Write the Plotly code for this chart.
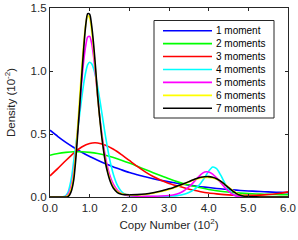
import plotly.graph_objects as go

# ---- data ----
x_wide = [0.0, 0.2, 0.4, 0.6, 0.8, 1.0, 1.2, 1.4, 1.6, 1.8, 2.0, 2.2, 2.4, 2.6, 2.8, 3.0,
          3.2, 3.4, 3.6, 3.8, 4.0, 4.2, 4.4, 4.6, 4.8, 5.0, 5.2, 5.4, 5.6, 5.8, 6.0]
m1 = [0.53, 0.48, 0.434, 0.393, 0.355, 0.321, 0.291, 0.263, 0.238, 0.216, 0.195, 0.177, 0.160,
      0.145, 0.132, 0.120, 0.109, 0.099, 0.090, 0.082, 0.075, 0.068, 0.062, 0.057, 0.052, 0.048,
      0.045, 0.042, 0.039, 0.037, 0.035]
m2 = [0.331, 0.345, 0.354, 0.359, 0.359, 0.354, 0.345, 0.331, 0.313, 0.292, 0.269, 0.244, 0.218,
      0.193, 0.168, 0.144, 0.122, 0.103, 0.087, 0.073, 0.060, 0.050, 0.042, 0.036, 0.031, 0.027,
      0.024, 0.022, 0.020, 0.019, 0.019]
m3 = [0.167, 0.227, 0.290, 0.349, 0.397, 0.425, 0.429, 0.411, 0.379, 0.337, 0.290, 0.243, 0.200,
      0.163, 0.133, 0.108, 0.089, 0.071, 0.055, 0.042, 0.032, 0.025, 0.019, 0.015, 0.013, 0.013,
      0.014, 0.017, 0.022, 0.030, 0.041]

x_fine = [0.0, 0.1, 0.2, 0.3, 0.35, 0.4, 0.45, 0.5, 0.55, 0.6, 0.65, 0.7, 0.75, 0.8, 0.85, 0.9,
          0.95, 1.0, 1.05, 1.1, 1.15, 1.2, 1.25, 1.3, 1.35, 1.4, 1.45, 1.5, 1.55, 1.6, 1.7, 1.8,
          1.9, 2.0, 2.2, 2.4, 2.6, 2.8, 3.0, 3.1, 3.2, 3.3, 3.4, 3.5, 3.6, 3.7, 3.8, 3.9, 4.0,
          4.1, 4.2, 4.3, 4.4, 4.5, 4.6, 4.7, 4.8, 4.9, 5.0, 5.2, 5.4, 5.6, 5.8, 6.0]
m4 = [0, 0, 0, 0, 0.003, 0.012, 0.035, 0.09, 0.17, 0.29, 0.41, 0.537, 0.662, 0.786, 0.90, 0.99,
      1.05, 1.07, 1.057, 1.018, 0.957, 0.876, 0.783, 0.682, 0.58, 0.481, 0.389, 0.307, 0.236, 0.177,
      0.092, 0.044, 0.02, 0.01, 0.004, 0.003, 0.003, 0.004, 0.006, 0.008, 0.011, 0.016, 0.024,
      0.035, 0.052, 0.077, 0.11, 0.155, 0.205, 0.238, 0.225, 0.175, 0.115, 0.06, 0.024, 0.007,
      0.002, 0, 0, 0, 0, 0, 0, 0]
m5 = [0, 0, 0, 0, 0, 0.004, 0.02, 0.05, 0.11, 0.21, 0.36, 0.54, 0.73, 0.92, 1.08, 1.2,
      1.27, 1.275, 1.22, 1.11, 0.96, 0.80, 0.65, 0.52, 0.41, 0.315, 0.24, 0.18, 0.135, 0.10,
      0.053, 0.028, 0.016, 0.01, 0.006, 0.005, 0.006, 0.008, 0.012, 0.016, 0.024, 0.036, 0.055,
      0.08, 0.11, 0.145, 0.178, 0.198, 0.198, 0.182, 0.152, 0.115, 0.078, 0.046, 0.022, 0.008,
      0.002, 0, 0, 0, 0, 0, 0, 0]
m6 = [0, 0, 0, 0, 0, 0.002, 0.01, 0.03, 0.085, 0.18, 0.35, 0.57, 0.80, 1.02, 1.22, 1.37,
      1.44, 1.42, 1.32, 1.17, 0.99, 0.80, 0.64, 0.50, 0.38, 0.28, 0.21, 0.155, 0.11, 0.08,
      0.043, 0.027, 0.02, 0.017, 0.016, 0.02, 0.03, 0.044, 0.06, 0.07, 0.081, 0.093, 0.106,
      0.119, 0.132, 0.143, 0.151, 0.155, 0.155, 0.151, 0.141, 0.124, 0.102, 0.078, 0.054, 0.033,
      0.017, 0.008, 0.003, 0.001, 0, 0, 0, 0]
m7 = [0, 0, 0, 0, 0, 0, 0.003, 0.02, 0.06, 0.14, 0.30, 0.51, 0.73, 0.96, 1.18, 1.36,
      1.455, 1.45, 1.36, 1.21, 1.02, 0.81, 0.64, 0.49, 0.37, 0.27, 0.197, 0.14, 0.099, 0.069,
      0.035, 0.022, 0.019, 0.018, 0.019, 0.024, 0.034, 0.048, 0.065, 0.074, 0.085, 0.097, 0.109,
      0.122, 0.135, 0.147, 0.156, 0.161, 0.162, 0.157, 0.145, 0.126, 0.101, 0.074, 0.048, 0.027,
      0.013, 0.006, 0.003, 0.001, 0, 0, 0, 0]

names = ["1 moment", "2 moments", "3 moments", "4 moments", "5 moments", "6 moments", "7 moments"]
colors = ["#0000ff", "#00ff00", "#ff0000", "#00ffff", "#ff00ff", "#ffff00", "#000000"]
series = [(x_wide, m1), (x_wide, m2), (x_wide, m3), (x_fine, m4), (x_fine, m5), (x_fine, m6), (x_fine, m7)]

x_ticks = [0, 1, 2, 3, 4, 5, 6]
x_ticktext = ["0.0", "1.0", "2.0", "3.0", "4.0", "5.0", "6.0"]
y_ticks = [0, 0.5, 1.0, 1.5]
y_ticktext = ["0.0", "0.5", "1.0", "1.5"]

fig = go.Figure()
for (xs, ys), nm, col in zip(series, names, colors):
    fig.add_trace(go.Scatter(x=xs, y=ys, mode="lines", name=nm,
                             line=dict(color=col, width=1.6, shape="spline", smoothing=0.7)))

axis_col = "#262626"
fig.update_layout(
    width=298, height=240,
    margin=dict(l=50, r=10, t=8, b=43, autoexpand=False),
    paper_bgcolor="white", plot_bgcolor="white",
    showlegend=False,
    font=dict(family="Liberation Sans, Arial, sans-serif", size=12, color=axis_col),
)
fig.update_xaxes(range=[0, 6], tickvals=x_ticks, ticktext=x_ticktext, ticks="inside", ticklen=3,
                 tickcolor=axis_col, showline=True, linecolor=axis_col, linewidth=1.3,
                 mirror="ticks", showgrid=False, zeroline=False, automargin=False,
                 tickfont=dict(size=11.5),
                 title=dict(text="Copy Number (10<sup>2</sup>)", font=dict(size=11.5), standoff=7))
fig.update_yaxes(range=[0, 1.5], tickvals=y_ticks, ticktext=y_ticktext, ticks="inside", ticklen=3,
                 tickcolor=axis_col, showline=True, linecolor=axis_col, linewidth=1.3,
                 mirror="ticks", showgrid=False, zeroline=False, automargin=False,
                 tickfont=dict(size=11.5),
                 title=dict(text="Density (10<sup>-2</sup>)", font=dict(size=11.5), standoff=12))

# ---- manual legend (MATLAB-style compact box) ----
pw, ph = 238.0, 189.0
def px_x(p):
    return (p - 50) / pw
def px_y(p):
    return (197 - p) / ph

fig.add_shape(type="rect", xref="paper", yref="paper",
              x0=px_x(154), x1=px_x(274), y0=px_y(118), y1=px_y(20.5),
              line=dict(color=axis_col, width=1), fillcolor="white", layer="above")
for i, (nm, col) in enumerate(zip(names, colors)):
    yy = 30.7 + 12.93 * i
    fig.add_shape(type="line", xref="paper", yref="paper",
                  x0=px_x(163), x1=px_x(212), y0=px_y(yy), y1=px_y(yy),
                  line=dict(color=col, width=1.6), layer="above")
    fig.add_annotation(xref="paper", yref="paper", x=px_x(214), y=px_y(yy), text=nm,
                       showarrow=False, xanchor="left", yanchor="middle",
                       font=dict(size=10, color="#000000"))

fig.write_html("out.html", config={"displayModeBar": False},
               post_script="document.body.style.margin='0';document.body.style.padding='0';")
